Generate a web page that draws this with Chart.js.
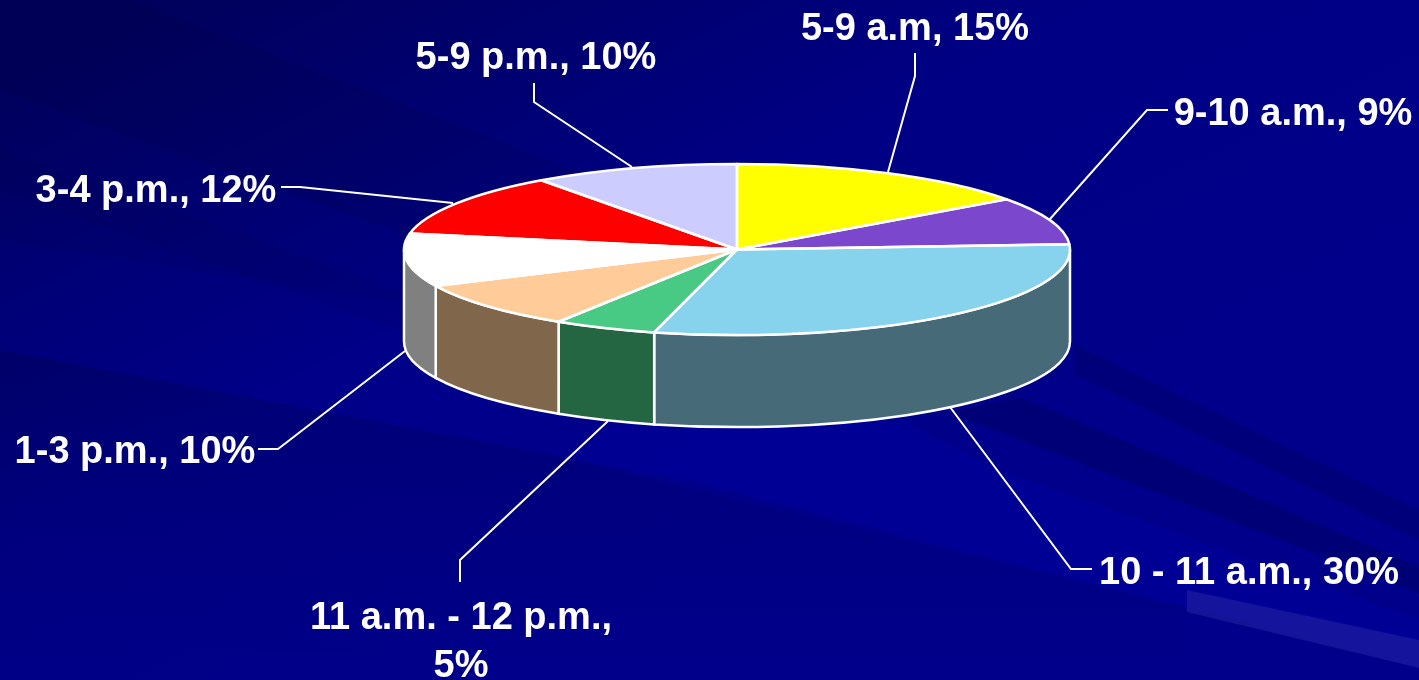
<!DOCTYPE html>
<html>
<head>
<meta charset="utf-8">
<title>Pie</title>
<script src="https://cdn.jsdelivr.net/npm/chart.js@4/dist/chart.umd.min.js"></script>
<style>
html, body { margin: 0; padding: 0; background: #00007f; overflow: hidden; }
#wrap { width: 1419px; height: 680px; }
</style>
</head>
<body>
<div id="wrap"><canvas id="pie" width="1419" height="680"></canvas></div>
<script>
const categories = ['5-9 a.m', '9-10 a.m.', '10 - 11 a.m.', '11 a.m. - 12 p.m.', '12-1 p.m.', '1-3 p.m.', '3-4 p.m.', '5-9 p.m.']
const shares = [15, 9, 30, 5, 9, 10, 12, 10]
const topColors = ['#ffff00', '#7b47cc', '#87d2ec', '#48c984', '#ffcc99', '#ffffff', '#ff0000', '#ccccff']
const sideColors = ['#808000', '#3e2466', '#476a78', '#256642', '#80664a', '#808080', '#800000', '#666680']

// one entry per labelled slice: text lines, baseline, leader line
const callouts = [
    {lines: ['5-9 a.m, 15%'], x: 915, y: [40], leader: [[915, 53], [915, 76], [888, 172]]},
    {lines: ['9-10 a.m., 9%'], x: 1293, y: [125], leader: [[1168, 110], [1147, 110], [1050, 219]]},
    {lines: ['10 - 11 a.m., 30%'], x: 1249, y: [584], leader: [[1092, 569], [1071, 569], [950, 407]]},
    {lines: ['11 a.m. - 12 p.m.,', '5%'], x: 461, y: [629, 677], leader: [[460, 582], [460, 560], [608, 421]]},
    {lines: ['1-3 p.m., 10%'], x: 135, y: [463], leader: [[258, 449], [278, 449], [405, 351]]},
    {lines: ['3-4 p.m., 12%'], x: 156, y: [202], leader: [[281, 187], [300, 187], [453, 203]]},
    {lines: ['5-9 p.m., 10%'], x: 536, y: [69], leader: [[534, 83], [534, 102], [632, 167]]}
]

const squash = 0.257
const depth = 92

// slide background streaks
const streaks = [
    ['rgba(0,0,50,0.12)', [[130, 0], [760, 240], [420, 240], [0, 90], [0, 0]]],
    ['rgba(0,0,50,0.08)', [[0, 150], [400, 290], [400, 330], [0, 190]]],
    ['rgba(0,0,220,0.06)', [[0, 350], [700, 483], [1186, 607], [1419, 668], [1419, 620], [1000, 470], [700, 350], [380, 300], [0, 240]]],
    ['rgba(0,0,220,0.10)', [[560, 458], [1186, 607], [1419, 668], [1419, 620], [1000, 470], [760, 345]]],
    ['rgba(0,0,50,0.22)', [[1021, 397], [1419, 567], [1419, 593], [948, 412]]],
    ['rgba(0,0,50,0.18)', [[1075, 345], [1419, 510], [1419, 540], [1075, 375]]],
    ['rgba(50,50,170,0.4)', [[1187, 590], [1419, 640], [1419, 668], [1187, 612]]]
]

const pie3d = {
    id: 'pie3d',
    beforeDraw(chart) {
        const ctx = chart.ctx
        const bg = ctx.createLinearGradient(150, 0, 480, 680)
        bg.addColorStop(0, '#00005c')
        bg.addColorStop(0.3, '#000072')
        bg.addColorStop(0.55, '#000084')
        bg.addColorStop(1, '#00008a')
        ctx.fillStyle = bg
        ctx.fillRect(0, 0, chart.width, chart.height)
        // dark patch under the bright band, fades out towards the bottom
        const fade = ctx.createLinearGradient(0, 350, 0, 660)
        fade.addColorStop(0, 'rgba(0,0,60,0.2)')
        fade.addColorStop(1, 'rgba(0,0,60,0)')
        ctx.fillStyle = fade
        ctx.beginPath()
        ctx.moveTo(0, 350)
        ctx.lineTo(700, 483)
        ctx.lineTo(1186, 607)
        ctx.lineTo(1186, 680)
        ctx.lineTo(0, 680)
        ctx.closePath()
        ctx.fill()
        streaks.forEach(([color, pts]) => {
            ctx.fillStyle = color
            ctx.beginPath()
            pts.forEach(p => ctx.lineTo(p[0], p[1]))
            ctx.closePath()
            ctx.fill()
        })
    },
    beforeDatasetsDraw(chart) {
        const ctx = chart.ctx
        const arcs = chart.getDatasetMeta(0).data
        const cx = arcs[0].x, cy = arcs[0].y, r = arcs[0].outerRadius
        const ry = r * squash
        ctx.save()
        ctx.strokeStyle = '#fff'
        ctx.lineWidth = 2.5
        // wall of every slice that faces the viewer
        arcs.forEach((arc, i) => {
            const s = Math.max(arc.startAngle, 0), e = Math.min(arc.endAngle, Math.PI)
            if (e <= s) return
            ctx.beginPath()
            ctx.ellipse(cx, cy, r, ry, 0, s, e)
            ctx.ellipse(cx, cy + depth, r, ry, 0, e, s, true)
            ctx.closePath()
            ctx.fillStyle = sideColors[i]
            ctx.fill()
            ctx.stroke()
        })
        ctx.restore()
        ctx.save()
        ctx.translate(cx, cy)
        ctx.scale(1, squash)
        ctx.translate(-cx, -cy)
    },
    afterDatasetsDraw(chart) {
        const ctx = chart.ctx
        ctx.restore()
        const arcs = chart.getDatasetMeta(0).data
        const cx = arcs[0].x, cy = arcs[0].y, r = arcs[0].outerRadius
        const ry = r * squash
        ctx.save()
        ctx.strokeStyle = '#fff'
        ctx.lineWidth = 2.5
        ctx.lineJoin = 'round'
        arcs.forEach(arc => {
            ctx.beginPath()
            ctx.moveTo(cx, cy)
            ctx.ellipse(cx, cy, r, ry, 0, arc.startAngle, arc.endAngle)
            ctx.closePath()
            ctx.stroke()
        })
        ctx.restore()
    },
    afterDraw(chart) {
        const ctx = chart.ctx
        ctx.save()
        ctx.strokeStyle = '#fff'
        ctx.lineWidth = 2
        callouts.forEach(c => {
            ctx.beginPath()
            c.leader.forEach(p => ctx.lineTo(p[0], p[1]))
            ctx.stroke()
        })
        ctx.fillStyle = '#fff'
        ctx.font = 'bold 38px "Liberation Sans", Arial, sans-serif'
        ctx.textAlign = 'center'
        ctx.textBaseline = 'alphabetic'
        callouts.forEach(c => {
            c.lines.forEach((line, k) => ctx.fillText(line, c.x, c.y[k]))
        })
        ctx.restore()
    }
}

new Chart(document.getElementById('pie'), {
    type: 'pie',
    plugins: [pie3d],
    data: {
        labels: categories,
        datasets: [{
            data: shares,
            backgroundColor: topColors,
            borderWidth: 0,
            clip: false
        }]
    },
    options: {
        responsive: false,
        animation: false,
        radius: 333,
        layout: {padding: {left: 55, bottom: 181}},
        events: [],
        plugins: {
            legend: {display: false},
            tooltip: {enabled: false}
        }
    }
})
</script>
</body>
</html>
